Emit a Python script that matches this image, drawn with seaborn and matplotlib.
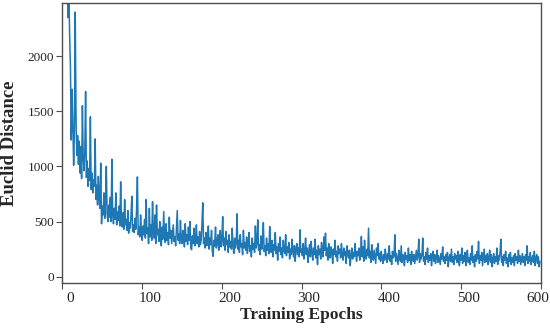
import numpy as np
import pandas as pd
import matplotlib
matplotlib.use("Agg")
import matplotlib.pyplot as plt
import matplotlib.transforms as mtransforms
import seaborn as sns

# euclid distance per training epoch (blocks of 50 epochs)
dist_000 = [9000, 6800, 5400, 4300, 3700, 3200, 2800, 2350, 2600, 2180,
            1900, 1240, 1700, 1380, 1010, 1320, 2400, 1450, 1100, 1280,
            1020, 1230, 940, 1180, 890, 1550, 1080, 960, 1130, 1680,
            900, 1050, 820, 980, 870, 1450, 790, 940, 760, 880,
            820, 1250, 700, 830, 650, 910, 720, 620, 1030, 480]
dist_050 = [640, 560, 760, 530, 690, 1000, 570, 500, 650, 540,
            720, 500, 1065, 560, 480, 620, 520, 760, 470, 590,
            510, 640, 460, 860, 500, 450, 580, 430, 700, 470,
            520, 420, 600, 395, 490, 440, 560, 730, 410, 470,
            400, 530, 430, 620, 905, 380, 450, 360, 560, 410]
dist_100 = [330, 460, 380, 520, 350, 700, 390, 440, 300, 620,
            360, 470, 330, 680, 410, 350, 560, 300, 650, 380,
            430, 320, 500, 370, 280, 450, 340, 590, 360, 310,
            480, 330, 400, 290, 540, 350, 420, 300, 380, 470,
            320, 360, 280, 440, 600, 330, 390, 300, 510, 340]
dist_150 = [300, 420, 350, 270, 480, 320, 380, 290, 450, 330,
            500, 260, 245, 370, 300, 440, 280, 340, 470, 300,
            360, 270, 410, 290, 330, 480, 670, 300, 350, 260,
            400, 280, 320, 460, 250, 350, 290, 420, 230, 185,
            330, 280, 450, 260, 310, 380, 240, 300, 420, 270]
dist_200 = [330, 545, 280, 350, 240, 410, 290, 330, 220, 380,
            270, 320, 250, 440, 280, 210, 350, 260, 300, 570,
            250, 330, 220, 380, 270, 300, 200, 420, 260, 310,
            240, 360, 210, 290, 400, 230, 280, 180, 350, 250,
            300, 220, 460, 260, 310, 515, 240, 290, 200, 370]
dist_250 = [250, 320, 490, 230, 280, 190, 350, 240, 300, 210,
            455, 260, 220, 330, 180, 290, 240, 400, 210, 270,
            150, 300, 230, 360, 200, 260, 170, 330, 240, 210,
            380, 190, 270, 220, 310, 160, 250, 200, 340, 230,
            180, 280, 140, 250, 300, 200, 260, 180, 425, 220]
dist_300 = [250, 190, 300, 160, 240, 350, 200, 260, 130, 230,
            290, 180, 320, 210, 150, 260, 200, 340, 170, 240,
            110, 280, 200, 250, 160, 310, 220, 180, 360, 240,
            395, 190, 260, 150, 300, 210, 170, 270, 230, 120,
            250, 200, 330, 180, 230, 140, 280, 210, 250, 170]
dist_350 = [300, 200, 150, 260, 190, 230, 120, 280, 210, 170,
            240, 100, 190, 260, 160, 220, 180, 300, 200, 140,
            230, 190, 260, 150, 210, 365, 180, 270, 140, 330,
            200, 160, 250, 190, 440, 170, 230, 130, 290, 200,
            150, 240, 180, 120, 260, 190, 300, 160, 210, 140]
dist_400 = [230, 170, 120, 200, 150, 250, 180, 130, 210, 160,
            280, 140, 190, 110, 230, 170, 190, 380, 140, 210,
            160, 110, 240, 180, 140, 280, 130, 200, 170, 100,
            220, 160, 190, 130, 260, 150, 200, 110, 230, 170,
            140, 200, 120, 180, 240, 150, 190, 340, 130, 210]
dist_450 = [160, 200, 350, 140, 180, 110, 220, 160, 260, 130,
            190, 150, 210, 100, 180, 230, 140, 200, 120, 170,
            240, 130, 190, 150, 110, 210, 160, 270, 140, 180,
            120, 200, 150, 220, 90, 170, 200, 140, 250, 130,
            180, 110, 210, 160, 190, 130, 230, 150, 100, 200]
dist_500 = [150, 260, 120, 190, 140, 220, 100, 180, 240, 130,
            170, 110, 210, 150, 280, 130, 180, 90, 200, 140,
            230, 160, 320, 120, 190, 150, 220, 100, 180, 250,
            130, 190, 140, 210, 110, 170, 240, 130, 200, 90,
            160, 210, 120, 180, 140, 260, 110, 190, 150, 220]
dist_550 = [340, 130, 180, 100, 200, 150, 230, 120, 170, 90,
            200, 140, 220, 110, 170, 130, 190, 100, 210, 150,
            180, 120, 240, 140, 190, 110, 160, 210, 130, 180,
            100, 200, 150, 280, 120, 180, 140, 220, 110, 160,
            190, 130, 230, 100, 170, 200, 120, 180, 90, 140]

distance = (dist_000 + dist_050 + dist_100 + dist_150 + dist_200 + dist_250
            + dist_300 + dist_350 + dist_400 + dist_450 + dist_500 + dist_550)
epochs = list(range(len(distance)))

x_ticks = [0, 100, 200, 300, 400, 500, 600]
y_ticks = [0, 500, 1000, 1500, 2000]

df = pd.DataFrame({"epoch": epochs, "distance": distance})

sns.set_style("white")
plt.rcParams["font.family"] = ["Liberation Serif", "DejaVu Serif"]

fig = plt.figure(figsize=(5.5, 3.28), dpi=100)
ax = fig.add_axes([0.1136, 0.1363, 0.8695, 0.8537])

sns.lineplot(data=df, x="epoch", y="distance", ax=ax,
             color="#1f77b4", linewidth=1.1, estimator=None)

ax.set_xlim(0, 600)
ax.set_ylim(-60, 2480)
ax.set_xticks(x_ticks)
ax.set_yticks(y_ticks)
ax.tick_params(axis="x", labelsize=11, length=4, width=0.8, color="0.3", pad=2)
ax.tick_params(axis="y", labelsize=9.5, length=4, width=0.8, color="0.3", pad=2)
ax.tick_params(bottom=True, left=True)

# tick labels in the reference sit a bit right of the ticks; the last one is pulled in
labels = ax.get_xticklabels()
for i, lab in enumerate(labels):
    dx = 7.5 if i < len(labels) - 1 else -3.0
    shift = mtransforms.ScaledTranslation(dx / 100, 0, fig.dpi_scale_trans)
    lab.set_transform(lab.get_transform() + shift)

ax.set_xlabel("Training Epochs", fontsize=12.5, fontweight="bold", labelpad=2)
ax.set_ylabel("Euclid Distance", fontsize=13.5, fontweight="bold", labelpad=7)

for sp in ax.spines.values():
    sp.set_color("0.3")
    sp.set_linewidth(1.0)

fig.savefig("out.png", dpi=100)
